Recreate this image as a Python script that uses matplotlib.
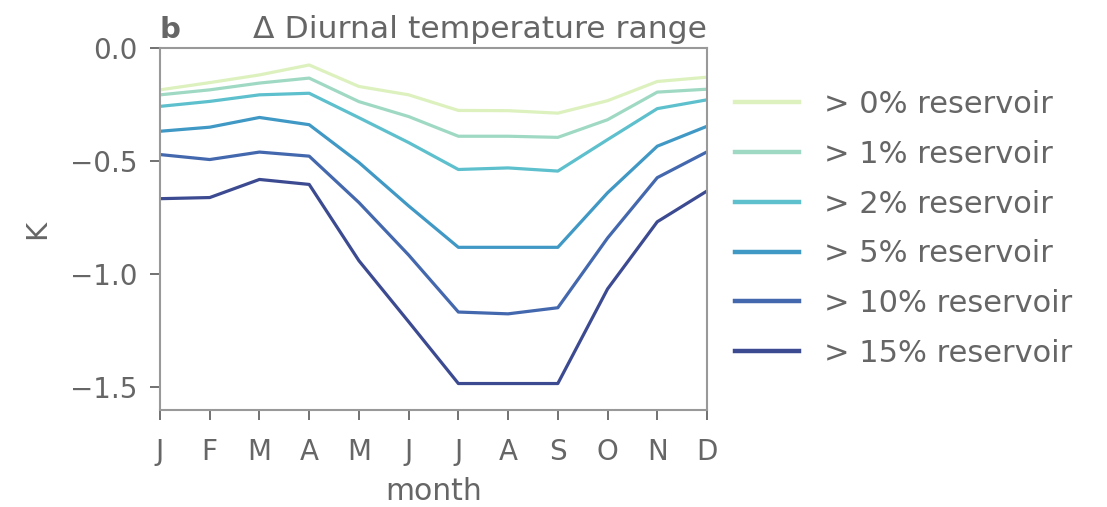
import matplotlib
matplotlib.use("Agg")
import matplotlib.pyplot as plt
import numpy as np

months = ["J", "F", "M", "A", "M", "J", "J", "A", "S", "O", "N", "D"]
labels = ["> 0% reservoir", "> 1% reservoir", "> 2% reservoir",
          "> 5% reservoir", "> 10% reservoir", "> 15% reservoir"]

res_0 = [-0.185, -0.153, -0.119, -0.075, -0.170, -0.207, -0.276, -0.277, -0.288, -0.233, -0.148, -0.129]
res_1 = [-0.207, -0.185, -0.155, -0.133, -0.237, -0.303, -0.390, -0.390, -0.395, -0.317, -0.195, -0.182]
res_2 = [-0.258, -0.236, -0.207, -0.200, -0.308, -0.418, -0.537, -0.530, -0.544, -0.405, -0.268, -0.229]
res_5 = [-0.368, -0.350, -0.307, -0.339, -0.506, -0.698, -0.881, -0.881, -0.881, -0.640, -0.434, -0.346]
res_10 = [-0.471, -0.493, -0.460, -0.478, -0.683, -0.915, -1.167, -1.175, -1.148, -0.840, -0.573, -0.459]
res_15 = [-0.666, -0.661, -0.581, -0.603, -0.940, -1.210, -1.483, -1.483, -1.483, -1.065, -0.768, -0.632]
series = [res_0, res_1, res_2, res_5, res_10, res_15]

gray = "#666666"
plt.rcParams.update({
    "font.family": "DejaVu Sans",
    "text.color": gray, "axes.labelcolor": gray,
    "xtick.color": gray, "ytick.color": gray,
    "axes.edgecolor": "#999999",
})

fig = plt.figure(figsize=(11.07, 5.07), dpi=100)
ax = fig.add_axes([160/1107, 1 - 410/507, (707-160)/1107, (410-48)/507])

cmap = plt.get_cmap("YlGnBu")
cols = cmap([0.2, 0.35, 0.5, 0.65, 0.8, 0.92])
x = np.arange(len(months))
for s, lab, c in zip(series, labels, cols):
    ax.plot(x, s, color=c, lw=2.3, alpha=0.85, label=lab)

ax.set_xlim(0, 11)
ax.set_ylim(-1.6, 0)
ax.set_xticks(x)
ax.set_xticklabels(months)
ax.set_yticks([0, -0.5, -1.0, -1.5])
ax.set_yticklabels(["0.0", "\u22120.5", "\u22121.0", "\u22121.5"])
ax.tick_params(length=7, width=1.3)
ax.tick_params(axis="x", labelsize=20, pad=13)
ax.tick_params(axis="y", labelsize=20, pad=9)
for sp in ax.spines.values():
    sp.set_linewidth(1.5)
ax.set_xlabel("month", fontsize=21.5, labelpad=8)
ax.set_ylabel("K", fontsize=21, labelpad=14)
ax.set_title("\u0394 Diurnal temperature range", loc="right", fontsize=22.6, pad=18)
ax.set_title("b", loc="left", fontsize=21, fontweight="bold", pad=7)

leg = fig.legend(loc="upper left", bbox_to_anchor=(735/1107, 1 - 90/507), frameon=False,
                 borderaxespad=0, borderpad=0,
                 fontsize=22, handlelength=2.1, handletextpad=0.8, labelspacing=0.68)
for t in leg.get_texts():
    t.set_color(gray)
for h in leg.legend_handles:
    h.set_linewidth(3.2)

fig.savefig("out.png", dpi=100)
